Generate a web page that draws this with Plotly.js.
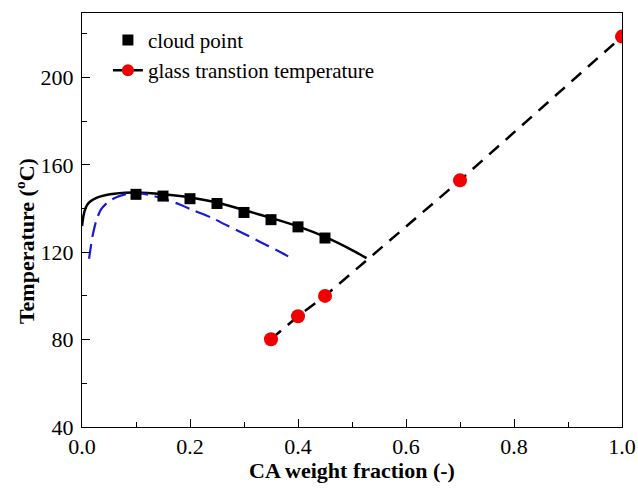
<!DOCTYPE html>
<html>
<head>
<meta charset="utf-8">
<script src="https://cdn.plot.ly/plotly-3.0.1.min.js"></script>
<style>html,body{margin:0;padding:0;background:#fff;}#chart{width:638px;height:492px;}</style>
</head>
<body>
<div id="chart"></div>
<script>
// Cloud point data (squares)
const cloudX = [0.10, 0.15, 0.20, 0.25, 0.30, 0.35, 0.40, 0.45];
const cloudT = [146.5, 145.7, 144.5, 142.3, 138.2, 134.9, 131.6, 126.5];

// Binodal curve (black solid)
const binodalX = [0.0, 0.003, 0.007, 0.012, 0.02, 0.03, 0.045, 0.06, 0.08, 0.10, 0.15, 0.20, 0.25, 0.30, 0.35, 0.40, 0.45, 0.50, 0.527];
const binodalT = [132, 137, 140.5, 142.5, 144, 145.2, 146.2, 146.8, 147.2, 147.3, 146.5, 145.1, 142.8, 139.3, 135.7, 131.8, 127, 121, 117.3];

// Spinodal curve (blue dashed)
const spinodalX = [0.013, 0.016, 0.02, 0.027, 0.035, 0.046, 0.058, 0.07, 0.085, 0.10, 0.125, 0.15, 0.18, 0.206, 0.24, 0.268, 0.30, 0.33, 0.36, 0.384];
const spinodalT = [117, 122, 128, 135, 139.5, 142.5, 144.5, 145.8, 146.8, 147.1, 146.2, 144.5, 142, 139.2, 135.8, 132.3, 128.5, 124.7, 121, 117.8];

// Glass transition temperature (red circles, dashed)
const tgX = [0.35, 0.40, 0.45, 0.70, 1.0];
const tgT = [80.2, 90.7, 100, 152.9, 218.7];

const xTicks = [0, 0.2, 0.4, 0.6, 0.8, 1.0];
const xTickText = ['0.0', '0.2', '0.4', '0.6', '0.8', '1.0'];
const yTicks = [40, 80, 120, 160, 200];

const FONT = 'Liberation Serif';

const traces = [
  {x: binodalX, y: binodalT, mode: 'lines', showlegend: false,
   line: {color: 'black', width: 2.5, shape: 'spline', smoothing: 0.6}},
  {x: spinodalX, y: spinodalT, mode: 'lines', showlegend: false,
   line: {color: 'rgb(25,25,215)', width: 2.2, dash: '15px,7px', shape: 'spline', smoothing: 0.6}},
  {x: cloudX, y: cloudT, mode: 'markers', name: 'cloud point',
   marker: {symbol: 'square', color: 'black', size: 11}},
  {x: tgX, y: tgT, mode: 'lines+markers', showlegend: false,
   line: {color: 'black', width: 2.5, dash: '13px,9px'},
   marker: {symbol: 'circle', color: 'rgb(240,0,0)', size: 14}},
  // legend entry (solid line + marker as in the reference legend); on a hidden
  // overlaying axis whose range leaves the points out of view
  {x: tgX, y: tgT, yaxis: 'y2', mode: 'lines+markers', name: 'glass transtion temperature',
   line: {color: 'black', width: 2.5},
   marker: {symbol: 'circle', color: 'rgb(240,0,0)', size: 12}}
];

const layout = {
  width: 638, height: 492,
  margin: {l: 82, r: 16, t: 13, b: 65},
  font: {family: FONT, size: 21, color: 'black'},
  xaxis: {
    range: [0, 1], tickmode: 'array', tickvals: xTicks, ticktext: xTickText,
    showgrid: false, zeroline: false, showline: true, mirror: true, linecolor: 'black',
    ticks: 'inside', ticklen: 8, tickcolor: 'black',
    tickfont: {family: FONT, size: 22, color: 'black'},
    minor: {dtick: 0.1, ticks: 'inside', ticklen: 5}
  },
  yaxis: {
    range: [40, 229.5], tickmode: 'array', tickvals: yTicks,
    showgrid: false, zeroline: false, showline: true, mirror: true, linecolor: 'black',
    ticks: 'inside', ticklen: 8, tickcolor: 'black',
    tickfont: {family: FONT, size: 22, color: 'black'}, ticklabelstandoff: 3,
    minor: {dtick: 20, ticks: 'inside', ticklen: 5}
  },
  yaxis2: {overlaying: 'y', range: [0, 1], visible: false},
  legend: {x: 0.048, y: 0.9835, font: {family: FONT, size: 21, color: 'black'}},
  annotations: [
    {xref: 'paper', yref: 'paper', x: -0.1056, y: 0.449, xanchor: 'center', yanchor: 'middle',
     textangle: -90, showarrow: false,
     text: '<b>Temperature (<sup>o</sup>C)</b>', font: {family: FONT, size: 22, color: 'black'}},
    {xref: 'paper', yref: 'paper', x: 0.5, y: -0.106, xanchor: 'center', yanchor: 'middle',
     showarrow: false,
     text: '<b>CA weight fraction (-)</b>', font: {family: FONT, size: 22, color: 'black'}}
  ]
};

Plotly.newPlot('chart', traces, layout, {displayModeBar: false, staticPlot: true});
</script>
</body>
</html>
